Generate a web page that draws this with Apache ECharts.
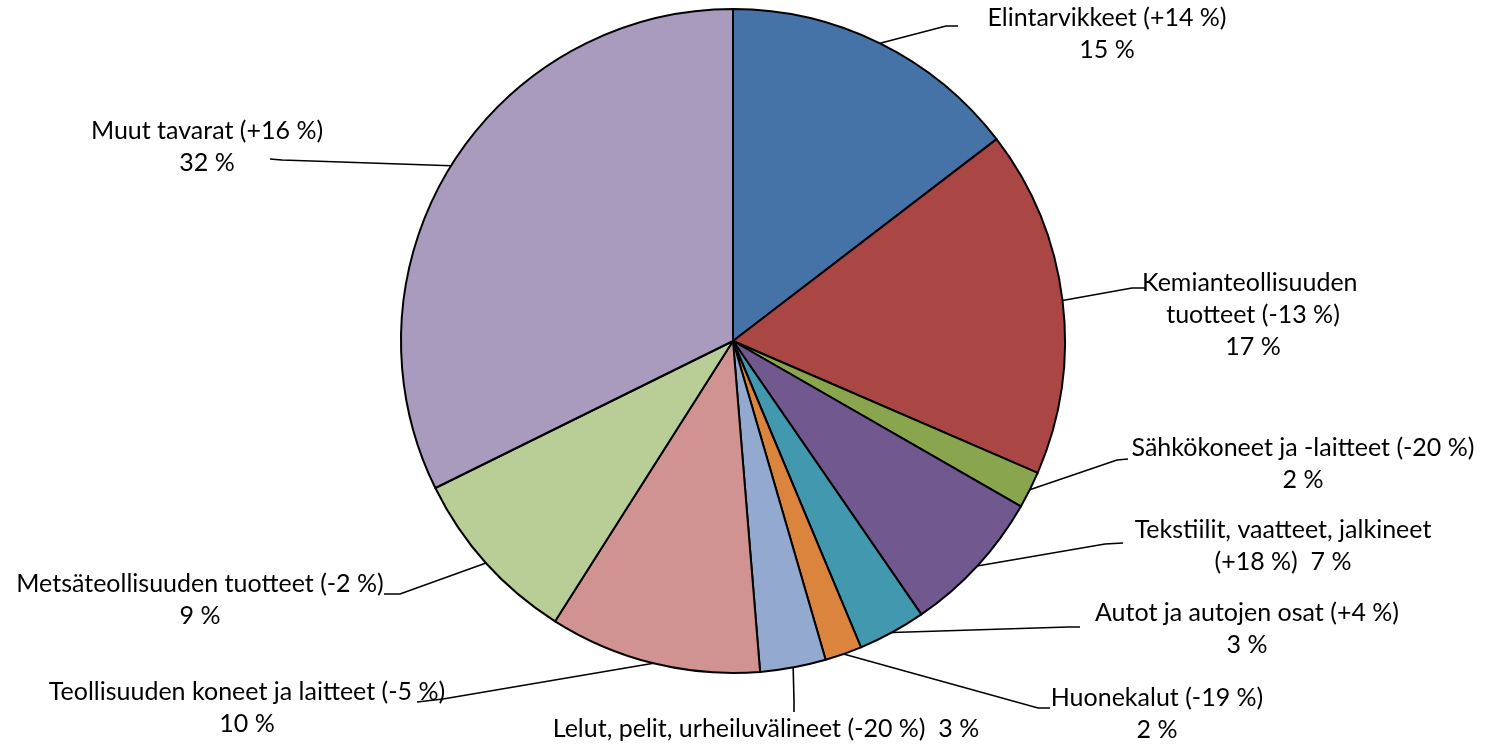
<!DOCTYPE html>
<html>
<head>
<meta charset="utf-8">
<script src="https://cdn.jsdelivr.net/npm/echarts@6/dist/echarts.min.js"></script>
<style>
  html, body { margin: 0; padding: 0; background: #fff; }
  #chart { width: 1486px; height: 746px; }
</style>
</head>
<body>
<div id="chart"></div>
<script>
// categories (clockwise from 12 o'clock)
const names = [
  'Elintarvikkeet',
  'Kemianteollisuuden \ntuotteet',
  'Sähkökoneet ja -laitteet',
  'Tekstiilit, vaatteet, jalkineet',
  'Autot ja autojen osat',
  'Huonekalut',
  'Lelut, pelit, urheiluvälineet',
  'Teollisuuden koneet ja laitteet',
  'Metsäteollisuuden tuotteet',
  'Muut tavarat'
]
// change from previous year, %
const changes = ['+14', '-13', '-20', '+18', '+4', '-19', '-20', '-5', '-2', '+16']
// share of total, %
const shares = [14.6, 16.9, 1.8, 7.1, 3.3, 1.8, 3.2, 10.3, 8.7, 32.3]

const colors = ['#4572A7', '#AA4643', '#89A54E', '#71588F', '#4198AF',
  '#DB843D', '#93A9CF', '#D19392', '#B9CD96', '#A99BBD']

// label text layout: a = "name (chg)\np", b = "name\n(chg)  p", c = "name (chg)  p"
const labelStyle = ['a', 'a', 'a', 'b', 'a', 'a', 'c', 'a', 'a', 'a']
// label block centres
const labelPos = [
  [1107, 34], [1253, 315], [1303, 464], [1283, 546], [1247, 629],
  [1157, 714], [766, 729], [247, 708], [200, 600], [207, 147]
]
// leader line bends / ends (start is the slice edge)
const leaderPts = [
  [[946, 26], [958, 26]],
  [[1132, 288], [1145, 288]],
  [[1117, 460], [1128, 459]],
  [[1105, 544], [1123, 543]],
  [[1068, 627], [1080, 627]],
  [[1038, 708], [1050, 708]],
  [[794, 700], [794, 712]],
  [[443, 699], [417, 702]],
  [[400, 594], [384, 594]],
  [[282, 160], [270, 159]]
]

const chart = echarts.init(document.getElementById('chart'))

const option = {
  animation: false,
  color: colors,
  series: [
    {
      type: 'pie',
      center: [733, 341],
      radius: 332,
      startAngle: 90,
      clockwise: true,
      avoidLabelOverlap: false,
      data: names.map((n, i) => ({ name: n, value: shares[i] })),
      itemStyle: {
        borderColor: '#000',
        borderWidth: 2
      },
      emphasis: { disabled: true },
      label: {
        show: true,
        position: 'outside',
        color: '#000',
        fontFamily: 'Lato',
        fontSize: 25,
        lineHeight: 32,
        formatter: (p) => {
          const i = p.dataIndex
          const pct = Math.round(shares[i]) + ' %'
          const chg = '(' + changes[i] + ' %)'
          if (labelStyle[i] === 'b') return names[i] + '\n' + chg + '  ' + pct
          if (labelStyle[i] === 'c') return names[i] + ' ' + chg + '  ' + pct
          return names[i] + ' ' + chg + '\n' + pct
        }
      },
      labelLine: {
        show: true,
        smooth: false,
        lineStyle: { color: '#000', width: 1.6 }
      },
      labelLayout: (params) => {
        const i = params.dataIndex
        const start = params.labelLinePoints ? params.labelLinePoints[0] : leaderPts[i][0]
        return {
          x: labelPos[i][0],
          y: labelPos[i][1],
          align: 'center',
          verticalAlign: 'middle',
          labelLinePoints: [start, leaderPts[i][0], leaderPts[i][1]]
        }
      }
    }
  ]
}

chart.setOption(option)
</script>
</body>
</html>
